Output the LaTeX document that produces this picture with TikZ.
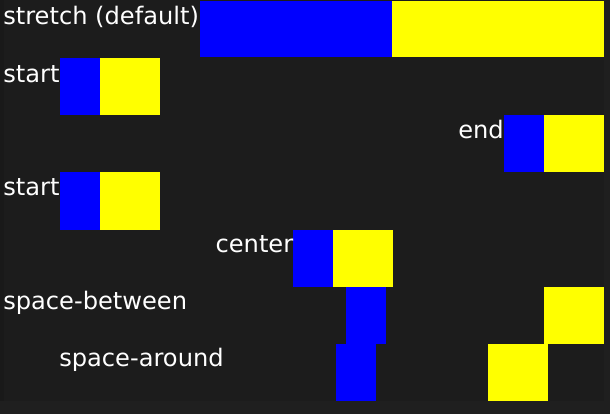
\documentclass[tikz,border=0pt]{standalone}
\usepackage{fontspec}
\setmainfont{DejaVu Sans}
\definecolor{outerbg}{HTML}{1F1F1F}
\definecolor{innerbg}{HTML}{1C1C1C}
\definecolor{leftbg}{HTML}{191919}
\definecolor{bluebox}{HTML}{0000FF}
\definecolor{yellowbox}{HTML}{FFFF00}
\begin{document}
\begin{tikzpicture}[x=0.75pt,y=-0.75pt,
  lbl/.style={text=white,inner sep=0pt,font=\fontsize{18.1pt}{21pt}\selectfont},
  bbox/.style={fill=bluebox,draw=none},
  ybox/.style={fill=yellowbox,draw=none}]
\useasboundingbox (0,0) rectangle (610,414);
\fill[outerbg] (0,0) rectangle (610,414);
\fill[leftbg] (0,0) rectangle (4,401);
\fill[innerbg] (4,0) rectangle (604,401);
% row 1: stretch
\fill[bbox] (200,1) rectangle (392,57);
\fill[ybox] (392,1) rectangle (604,57);
\node[lbl,anchor=base west] (t1) at (3,24) {stretch (default)};
% row 2: start
\fill[bbox] (60,58) rectangle (100,115);
\fill[ybox] (100,58) rectangle (160,115);
\node[lbl,anchor=base west] (t2) at (3,82) {start};
% row 3: end
\fill[bbox] (504,115) rectangle (544,172);
\fill[ybox] (544,115) rectangle (604,172);
\node[lbl,anchor=base east] (t3) at (504,138) {end};
% row 4: start
\fill[bbox] (60,172) rectangle (100,230);
\fill[ybox] (100,172) rectangle (160,230);
\node[lbl,anchor=base west] (t4) at (3,195) {start};
% row 5: center
\fill[bbox] (293,230) rectangle (333,287);
\fill[ybox] (333,230) rectangle (393,287);
\node[lbl,anchor=base east] (t5) at (293.5,252) {center};
% row 6: space-between
\fill[bbox] (346,287) rectangle (386,344);
\fill[ybox] (544,287) rectangle (604,344);
\node[lbl,anchor=base west] (t6) at (3,309) {space-between};
% row 7: space-around
\fill[bbox] (336,344) rectangle (376,401);
\fill[ybox] (488,344) rectangle (548,401);
\node[lbl,anchor=base west] (t7) at (59,366) {space-around};
\end{tikzpicture}
\end{document}
